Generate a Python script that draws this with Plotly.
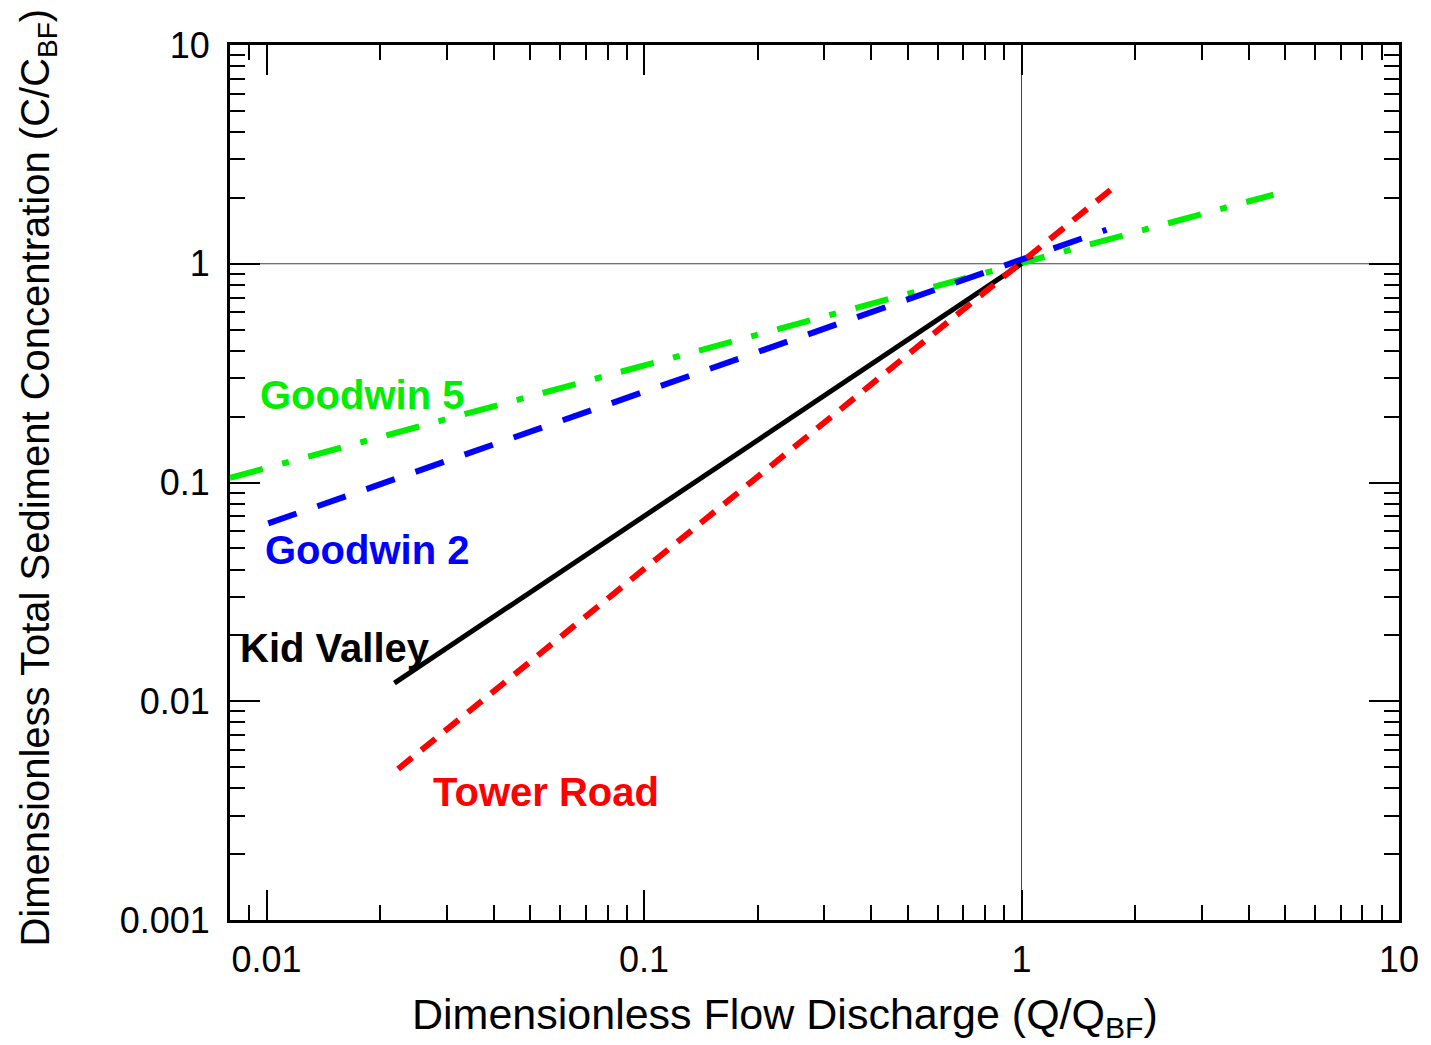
import math
import plotly.graph_objects as go

# Data
kid_x = [0.0218, 1.0]
kid_y = [0.0121, 1.0]
tower_x = [0.0223, 1.79]
tower_y = [0.0049, 2.30]
g2_x = [0.0101, 1.68]
g2_y = [0.065, 1.43]
g5_x = [0.008, 4.65]
g5_y = [0.105, 2.07]

x_ticks = [0.01, 0.1, 1, 10]
x_ticklabels = ["0.01", "0.1", "1", "10"]
y_ticks = [0.001, 0.01, 0.1, 1, 10]
y_ticklabels = ["0.001", "0.01", "0.1", "1", "10"]

label_text = ["Goodwin 5", "Goodwin 2", "Kid Valley", "Tower Road"]
label_x = [0.0095, 0.0098, 0.0084, 0.0272]
label_y = [0.25, 0.049, 0.0175, 0.00385]
label_color = ["#00ee00", "#0000ff", "#000000", "#ff0000"]

FONT = "Liberation Sans, Arial, sans-serif"

fig = go.Figure()
fig.add_trace(go.Scatter(x=g5_x, y=g5_y, mode="lines",
                         line=dict(color="#00ee00", width=6, dash="34px,20px,7px,20px")))
fig.add_trace(go.Scatter(x=g2_x, y=g2_y, mode="lines",
                         line=dict(color="#0000ff", width=6, dash="30px,22px")))
fig.add_trace(go.Scatter(x=kid_x, y=kid_y, mode="lines",
                         line=dict(color="#000000", width=5)))
fig.add_trace(go.Scatter(x=tower_x, y=tower_y, mode="lines",
                         line=dict(color="#ff0000", width=6, dash="18px,12px")))

# reference lines at 1
fig.add_shape(type="line", xref="x", yref="paper", x0=1, x1=1, y0=0, y1=1,
              line=dict(color="#444444", width=1), layer="below")
fig.add_shape(type="line", xref="paper", yref="y", x0=0, x1=1, y0=1, y1=1,
              line=dict(color="#444444", width=1), layer="below")

for t, x, y, c in zip(label_text, label_x, label_y, label_color):
    fig.add_annotation(x=math.log10(x), y=math.log10(y),
                       xref="x", yref="y", text="<b>%s</b>" % t, showarrow=False,
                       xanchor="left", yanchor="middle",
                       font=dict(family=FONT, size=40, color=c))

axis_common = dict(type="log", showgrid=False, zeroline=False,
                   showline=True, linecolor="black", linewidth=3, mirror="allticks",
                   ticks="inside", ticklen=30, tickwidth=2, tickcolor="black",
                   minor=dict(ticks="inside", ticklen=15, tickwidth=2, tickcolor="black",
                              dtick="D1", showgrid=False),
                   tickfont=dict(family=FONT, size=36, color="black"))

fig.update_xaxes(range=[-2.097, 1.0], tickvals=x_ticks, ticktext=x_ticklabels,
                 ticklabelstandoff=6, **axis_common)
fig.update_yaxes(range=[-3.0, 1.0], tickvals=y_ticks, ticktext=y_ticklabels,
                 ticklabelstandoff=10, **axis_common)

fig.add_annotation(xref="paper", yref="paper", x=0.475, y=-0.111,
                   text="Dimensionless Flow Discharge (Q/Q<sub>BF</sub>)",
                   showarrow=False, xanchor="center", yanchor="middle",
                   font=dict(family=FONT, size=43, color="black"))
fig.add_annotation(xref="paper", yref="paper", x=-0.164, y=0.506,
                   text="Dimensionless Total Sediment Concentration (C/C<sub>BF</sub>)",
                   showarrow=False, xanchor="center", yanchor="middle", textangle=-90,
                   font=dict(family=FONT, size=40, color="black"))

fig.update_layout(width=1423, height=1037, showlegend=False,
                  margin=dict(l=222, r=22, t=37, b=125),
                  plot_bgcolor="white", paper_bgcolor="white")

fig.write_html("out.html")
